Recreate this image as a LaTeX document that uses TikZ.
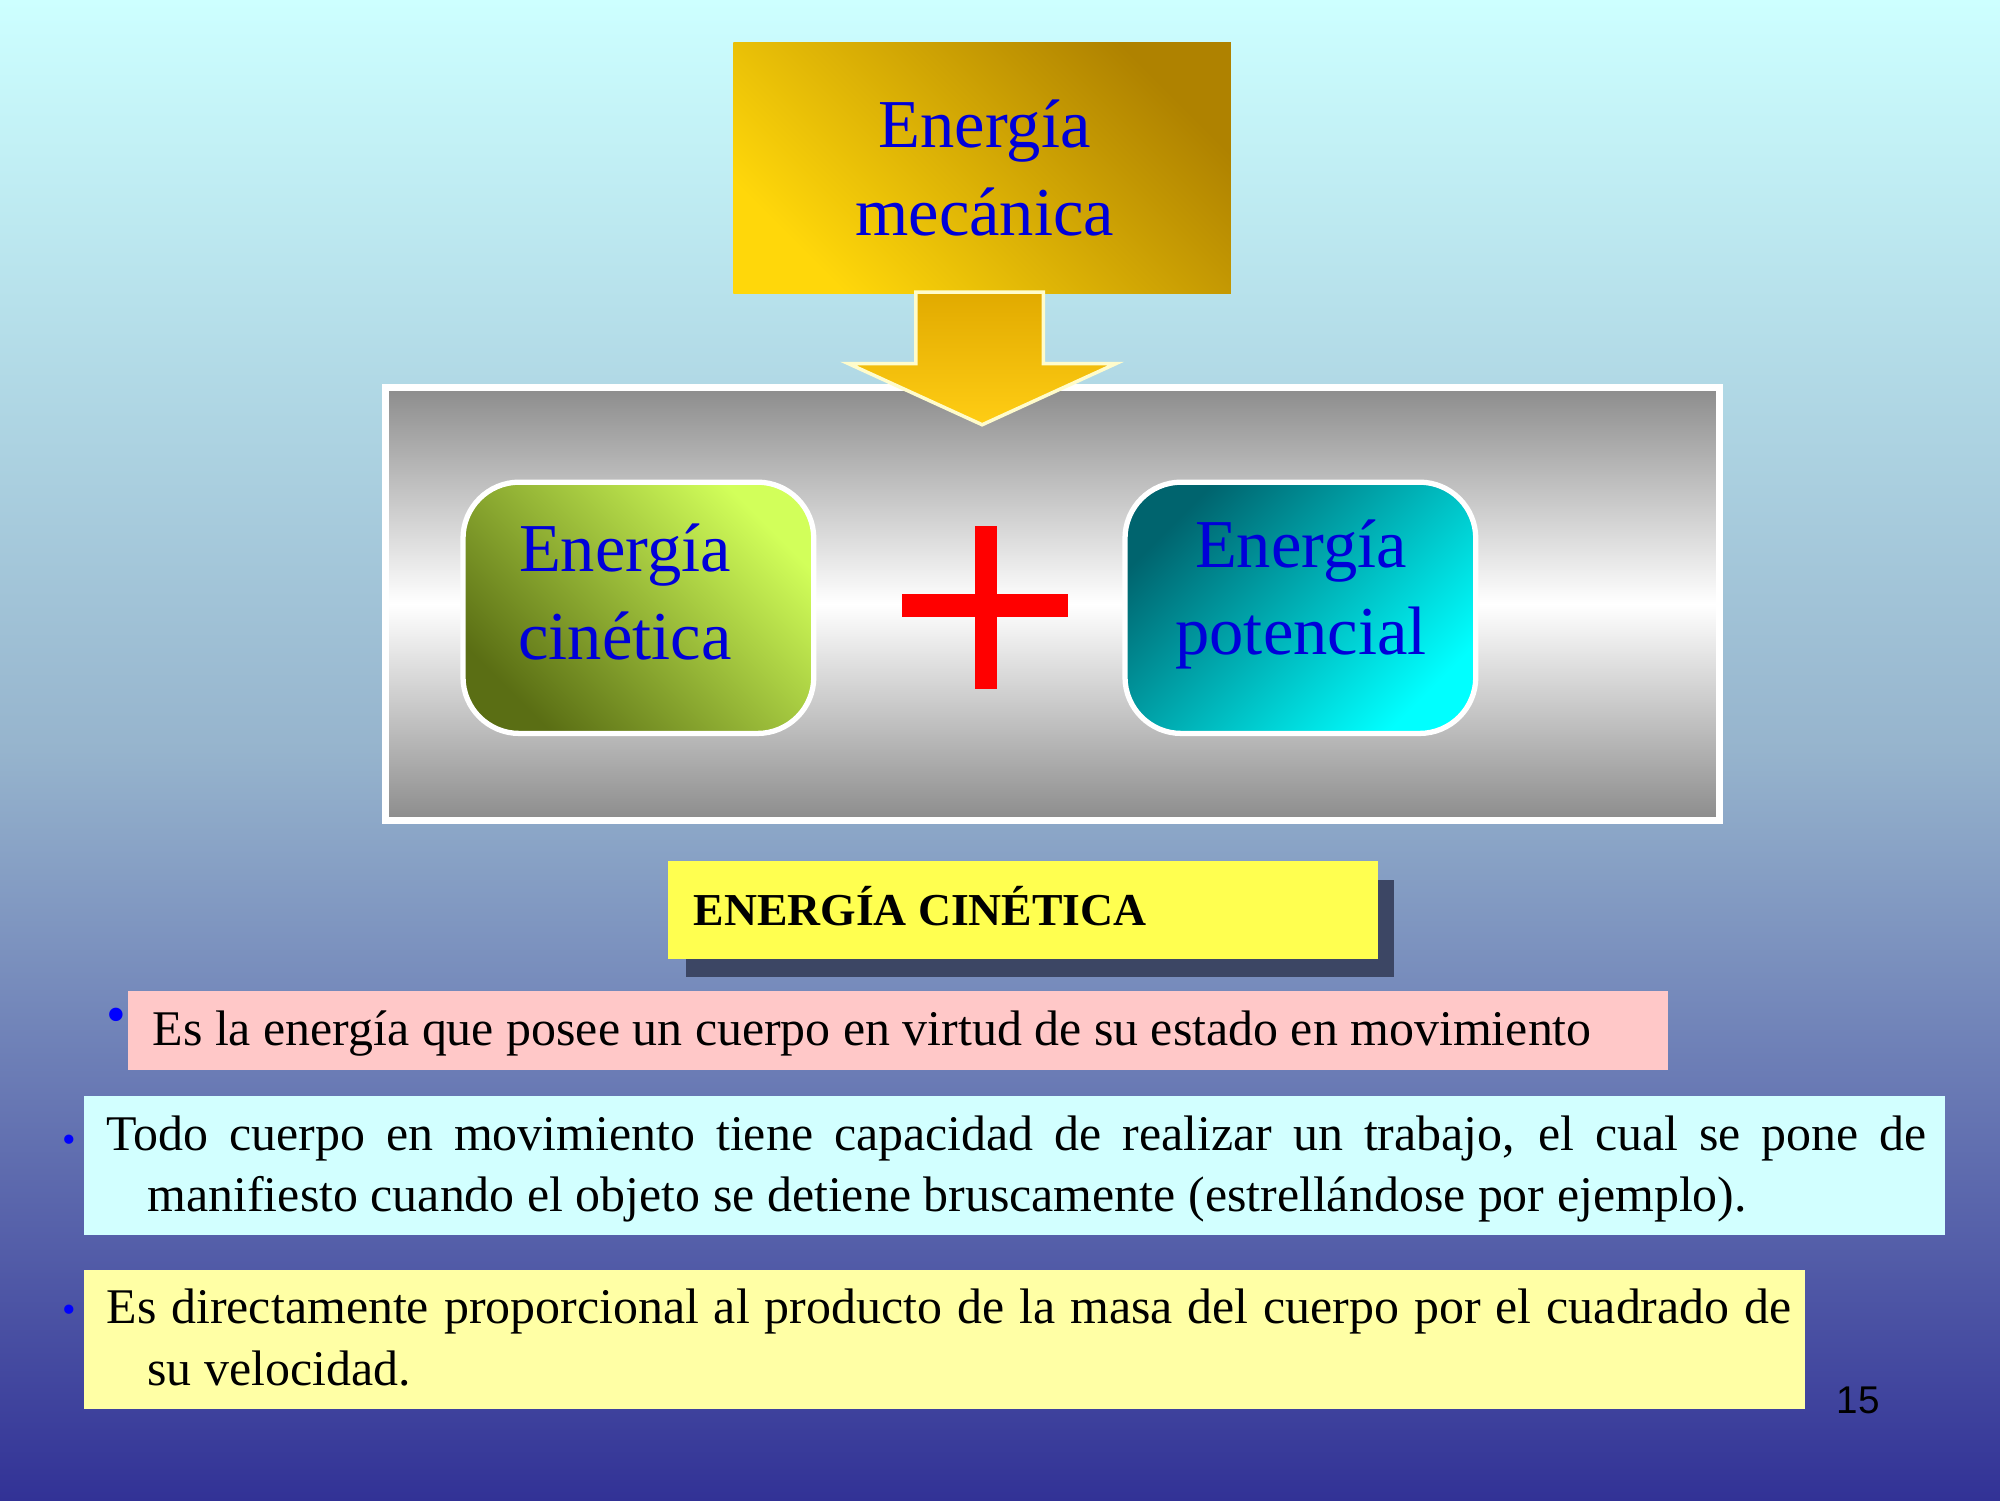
\documentclass[tikz,border=0pt]{standalone}
\usepackage{fontspec}
\setmainfont{Liberation Serif}
\newfontfamily\sansf{Liberation Sans}
\begin{document}
\begin{tikzpicture}[x=0.012755cm,y=-0.012755cm,
  bigtxt/.style={text=blue!85!black,font=\fontsize{19.5}{23}\selectfont,align=center},
  rbox/.style={rounded corners=16pt,draw=white,line width=1.5pt},
  body/.style={font=\fontsize{14.2}{17.5}\selectfont}]
\useasboundingbox (0,0) rectangle (1568,1176);
% background
\shade[top color={rgb,255:red,205;green,255;blue,255},bottom color={rgb,255:red,50;green,50;blue,150},middle color={rgb,255:red,150;green,180;blue,205}] (0,0) rectangle (1568,1176);
% gray panel
\shade[top color=gray!90,bottom color=gray!90,middle color=white,draw=white,line width=2pt] (302,304) rectangle (1348,643);
% mechanical energy box and arrow
\shade[left color={rgb,255:red,255;green,215;blue,10},right color={rgb,255:red,175;green,130;blue,0},shading angle=135] (575,33) rectangle (965,230);
\shade[top color={rgb,255:red,225;green,170;blue,0},bottom color={rgb,255:red,255;green,205;blue,20},draw=white!80!yellow,line width=1pt] (718,229) -- (818,229) -- (818,285) -- (875,285) -- (770,333) -- (665,285) -- (718,285) -- cycle;
\node[bigtxt] (mec) at (772,132) {Energía\\[2pt]mecánica};
% kinetic
\shade[rbox,left color={rgb,255:red,90;green,110;blue,20},right color={rgb,255:red,210;green,255;blue,90},shading angle=135] (363,378) rectangle (638,575);
\node[bigtxt] (cin) at (490,464) {Energía\\[2pt]cinética};
% potential
\shade[rbox,left color={rgb,255:red,0;green,100;blue,110},right color={rgb,255:red,0;green,255;blue,255},shading angle=45] (882,378) rectangle (1157,575);
\node[bigtxt] (pot) at (1020,466) {Energía\\[2pt]potencial};
% plus
\fill[red] (707,466) rectangle (837,484);
\fill[red] (764,412) rectangle (782,540);
% title box
\fill[fill={rgb,255:red,60;green,70;blue,100}] (538,690) rectangle (1093,766);
\fill[fill={rgb,255:red,255;green,255;blue,80}] (524,675) rectangle (1080,752);
\node[anchor=west,font=\bfseries\fontsize{13}{16}\selectfont] (tit) at (534,710) {ENERGÍA CINÉTICA};
% bullet 1
\fill[fill={rgb,255:red,255;green,200;blue,200}] (100,777) rectangle (1308,839);
\node[text=blue,font=\fontsize{16}{16}\selectfont] (b1) at (91,800) {•};
\node[anchor=west,body] (t1) at (110,810) {Es la energía que posee un cuerpo en virtud de su estado en movimiento};
% bullet 2
\fill[fill={rgb,255:red,210;green,255;blue,255}] (66,859) rectangle (1525,968);
\node[text=blue,font=\fontsize{11}{11}\selectfont] (b2) at (54,897) {•};
\node[anchor=north west,inner sep=0pt,body] (t2) at (83,874) {\parbox{18.2cm}{\hyphenpenalty=10000\hangindent=0.41cm\hangafter=1 Todo cuerpo en movimiento tiene capacidad de realizar un trabajo, el cual se pone de\linebreak manifiesto cuando el objeto se detiene bruscamente (estrellándose por ejemplo).}};
% bullet 3
\fill[fill={rgb,255:red,255;green,255;blue,165}] (66,996) rectangle (1415,1105);
\node[text=blue,font=\fontsize{11}{11}\selectfont] (b3) at (54,1030) {•};
\node[anchor=north west,inner sep=0pt,body] (t3) at (83,1010) {\parbox{16.85cm}{\hyphenpenalty=10000\hangindent=0.41cm\hangafter=1 Es directamente proporcional al producto de la masa del cuerpo por el cuadrado de\linebreak su velocidad.}};
\node[font=\sansf\fontsize{11}{13}\selectfont] (pg) at (1457,1098) {15};
\end{tikzpicture}
\end{document}
